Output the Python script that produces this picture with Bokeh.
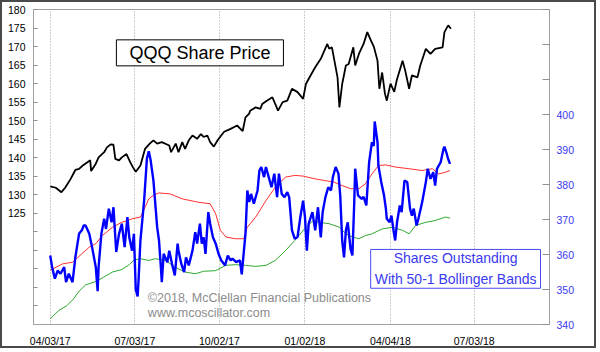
import datetime as dt
from bokeh.plotting import figure
from bokeh.models import (Range1d, LinearAxis, FixedTicker, DatetimeTickFormatter,
                          Label, ColumnDataSource)
from bokeh.embed import file_html
from bokeh.resources import INLINE

START = dt.datetime(2017, 4, 3)

# QQQ share price (left axis), day offsets from 04/03/17
price_day = [0, 6, 12, 16, 22, 27, 31, 35, 40, 43, 44, 49, 52, 58, 61, 65, 68, 70, 74, 77,
             82, 86, 89, 92, 97, 102, 107, 111, 115, 120, 128, 130, 135, 138, 142, 145, 149,
             153, 158, 162, 165, 169, 172, 176, 180, 187, 194, 201, 207, 210, 214, 215, 221,
             226, 228, 233, 239, 242, 245, 250, 255, 260, 266, 272, 275, 280, 285, 291, 298,
             300, 303, 307, 309, 311, 314, 318, 321, 326, 328, 332, 337, 341, 345, 348, 352,
             354, 357, 360, 362, 366, 370, 373, 379, 382, 386, 389, 395, 398, 404, 409, 414,
             422, 424, 428, 431]
price = [132.3, 131.9, 130.7, 131.9, 134.3, 136.7, 137.0, 137.9, 138.8, 139.3, 136.4, 138.4,
         140.1, 141.5, 142.8, 143.6, 143.5, 139.7, 139.3, 140.1, 141.0, 138.8, 137.4, 136.2,
         137.9, 142.4, 143.8, 144.7, 143.8, 144.2, 143.3, 141.5, 143.8, 141.5, 144.2, 142.4,
         144.7, 146.0, 145.1, 146.4, 145.6, 146.0, 144.2, 143.0, 144.7, 147.0, 147.8, 148.7,
         147.2, 150.9, 151.9, 152.7, 153.6, 153.2, 154.5, 155.4, 156.3, 154.5, 152.7, 155.0,
         155.4, 158.6, 157.7, 155.9, 159.9, 162.2, 164.4, 166.7, 170.7, 169.4, 169.8, 164.4,
         161.7, 153.6, 159.9, 164.9, 165.3, 169.8, 164.9, 168.0, 170.7, 173.9, 171.6, 170.0,
         166.2, 158.6, 163.0, 157.3, 155.4, 160.0, 157.8, 161.2, 166.2, 163.3, 158.6, 162.2,
         161.7, 164.9, 169.4, 168.0, 169.4, 169.8, 173.9, 175.7, 174.8]

# Shares outstanding, millions (right axis)
shares_day = [0, 2, 5, 8, 11, 15, 17, 20, 24, 27, 31, 34, 36, 38, 42, 45, 49, 51, 52, 55, 58,
              60, 63, 66, 68, 71, 74, 77, 80, 83, 85, 88, 90, 92, 94, 95, 97, 101, 104, 106,
              108, 111, 115, 117, 119, 120, 122, 126, 128, 131, 134, 137, 138, 141, 144, 146,
              149, 153, 156, 158, 161, 163, 165, 167, 170, 172, 175, 178, 181, 184, 188, 191,
              194, 196, 200, 204, 206, 208, 210, 212, 214, 216, 219, 223, 225, 227, 230, 232,
              235, 238, 241, 244, 246, 249, 252, 255, 257, 260, 263, 266, 269, 272, 274, 276,
              278, 282, 285, 288, 291, 293, 296, 299, 302, 304, 307, 310, 312, 314, 316, 318,
              320, 323, 325, 327, 328, 331, 335, 337, 340, 343, 346, 348, 349, 352, 353, 356,
              359, 361, 362, 365, 367, 369, 371, 373, 376, 378, 381, 384, 387, 389, 391, 394,
              396, 400, 404, 406, 409, 412, 414, 416, 420, 423, 424, 426, 428, 430]
shares = [359.7, 356.4, 353.1, 355.4, 354.5, 356.4, 352.1, 354.5, 352.1, 359.2, 365.9, 366.9,
          368.3, 368.3, 365.9, 362.1, 356.4, 349.5, 356.4, 365.9, 370.2, 367.3, 373.1, 369.2,
          373.5, 360.7, 365.9, 368.8, 362.1, 370.7, 364.9, 361.1, 365.9, 350.0, 348.0, 352.6,
          364.0, 375.4, 387.5, 389.5, 386.9, 381.1, 367.8, 364.0, 356.4, 352.1, 360.2, 357.8,
          361.1, 357.3, 354.0, 363.1, 361.1, 357.3, 355.0, 359.2, 356.9, 361.1, 366.4, 363.1,
          368.8, 363.1, 364.9, 360.2, 372.1, 368.8, 364.9, 363.1, 360.2, 358.3, 356.9, 359.7,
          358.3, 358.8, 357.8, 358.3, 354.3, 360.2, 365.9, 378.3, 375.0, 377.3, 374.5, 378.3,
          384.0, 385.0, 382.1, 385.0, 382.1, 379.2, 383.1, 376.4, 383.1, 377.3, 376.4, 377.8,
          376.4, 366.9, 364.5, 365.0, 370.7, 375.4, 370.7, 361.1, 368.8, 372.1, 366.9, 373.5,
          364.9, 372.1, 376.4, 379.2, 378.3, 382.1, 385.0, 383.1, 376.4, 364.0, 359.2, 366.9,
          369.2, 361.6, 359.7, 375.0, 384.5, 376.9, 375.9, 376.5, 374.0, 386.4, 392.1, 391.0,
          398.0, 392.1, 385.4, 380.7, 376.9, 373.1, 370.2, 369.2, 371.1, 367.3, 364.0, 369.2,
          374.0, 372.1, 381.1, 380.7, 373.1, 371.1, 373.1, 368.3, 370.2, 374.9, 380.7, 384.5,
          381.6, 383.5, 379.7, 384.5, 386.4, 390.2, 390.8, 389.2, 387.3, 385.9]

# 50-day Bollinger bands (right axis)
upper_day = [0, 13, 24, 34, 42, 49, 56, 67, 77, 88, 97, 102, 106, 111, 117, 129, 142, 160, 172,
             178, 183, 189, 199, 208, 212, 221, 232, 242, 253, 263, 272, 285, 296, 305, 314,
             323, 332, 339, 346, 353, 361, 371, 386, 400, 411, 418, 425, 430]
upper = [355.5, 357.3, 357.8, 360.2, 362.1, 363.1, 365.4, 367.8, 369.2, 370.2, 370.7, 373.5,
         375.9, 376.9, 377.6, 377.3, 375.9, 374.9, 374.5, 371.6, 366.9, 365.0, 364.5, 364.5,
         367.8, 370.7, 375.4, 379.2, 382.1, 382.6, 382.4, 381.6, 381.1, 380.7, 379.7, 378.8,
         378.8, 380.2, 383.0, 385.4, 385.6, 385.0, 384.5, 384.0, 384.5, 383.0, 383.5, 384.0]
lower_day = [0, 9, 18, 25, 31, 38, 49, 56, 67, 77, 85, 90, 97, 106, 113, 124, 134, 145, 156,
             165, 178, 189, 199, 210, 221, 232, 242, 253, 263, 274, 282, 289, 300, 311, 318,
             325, 332, 339, 346, 357, 368, 379, 386, 393, 404, 414, 425, 430]
lower = [341.6, 344.0, 345.4, 347.3, 349.5, 351.3, 352.3, 353.3, 355.0, 355.7, 357.1, 358.4,
         358.8, 358.3, 358.8, 358.3, 356.4, 355.0, 354.5, 355.2, 355.4, 356.9, 357.1, 356.9,
         356.6, 356.9, 358.3, 361.1, 364.0, 367.5, 369.5, 369.2, 368.8, 367.8, 365.9, 365.0,
         364.5, 365.4, 365.9, 367.3, 367.8, 366.9, 365.9, 368.3, 369.2, 369.7, 370.7, 370.4]

tick_dates = ["2017-04-03", "2017-07-03", "2017-10-02", "2018-01-02", "2018-04-04", "2018-07-03"]
left_ticks = list(range(100, 181, 5))
left_labelled = list(range(125, 181, 5))
right_ticks = list(range(340, 431, 10))
right_labelled = list(range(340, 401, 10))


def to_dates(days):
    return [START + dt.timedelta(days=d) for d in days]


def ms(d):
    return (d - dt.datetime(1970, 1, 1)).total_seconds() * 1000.0


FONT = "Liberation Sans"
BLUE_TXT = "#3a3af0"

p = figure(width=596, height=348, x_axis_type="datetime",
           x_range=Range1d(dt.datetime(2017, 3, 16), dt.datetime(2018, 9, 22)),
           y_range=Range1d(95, 180), output_backend="svg", toolbar_location=None,
           min_border_left=31, min_border_right=49, min_border_top=7, min_border_bottom=26)
p.styles = {"border": "2px solid #4a4a4a"}
p.extra_y_ranges = {"sh": Range1d(340, 430)}
p.outline_line_color = "#a0a0a0"
p.background_fill_color = "white"
p.border_fill_color = "white"

# x axis
xt = [ms(dt.datetime.strptime(s, "%Y-%m-%d")) for s in tick_dates]
p.xaxis.ticker = FixedTicker(ticks=xt)
fmt = "%m/%d/%y"
p.xaxis.formatter = DatetimeTickFormatter(days=fmt, months=fmt, years=fmt, hours=fmt,
                                          minutes=fmt, seconds=fmt, milliseconds=fmt,
                                          minsec=fmt, hourmin=fmt)
p.xaxis.major_tick_in = 0
p.xaxis.major_tick_out = 0
p.xaxis.minor_tick_line_color = None
p.xaxis.axis_line_color = "#a0a0a0"
p.xaxis.major_label_standoff = 10
p.xaxis.major_label_text_font = FONT
p.xaxis.major_label_text_font_size = "10.5px"
p.xaxis.major_label_text_color = "black"

p.xgrid.ticker = FixedTicker(ticks=xt)
p.xgrid.grid_line_color = "#9a9a9a"
p.xgrid.grid_line_dash = "1 2"
p.xgrid.grid_line_width = 1
p.ygrid.grid_line_color = None

# left axis
p.yaxis.ticker = FixedTicker(ticks=left_ticks)
p.yaxis.major_label_overrides = {t: "" for t in left_ticks if t not in left_labelled}
p.yaxis.major_tick_in = 4
p.yaxis.major_tick_out = 0
p.yaxis.minor_tick_line_color = None
p.yaxis.major_tick_line_color = "#909090"
p.yaxis.axis_line_color = "#a0a0a0"
p.yaxis.major_label_standoff = 8
p.yaxis.major_label_text_font = FONT
p.yaxis.major_label_text_font_size = "10.5px"
p.yaxis.major_label_text_color = "black"

# right axis
ra = LinearAxis(y_range_name="sh", ticker=FixedTicker(ticks=right_ticks))
ra.major_label_overrides = {t: "" for t in right_ticks if t not in right_labelled}
ra.major_tick_in = 7
ra.major_tick_out = 0
ra.minor_tick_line_color = None
ra.major_tick_line_color = "#909090"
ra.axis_line_color = "#a0a0a0"
ra.major_label_standoff = 7
ra.major_label_text_font = FONT
ra.major_label_text_font_size = "10.5px"
ra.major_label_text_color = BLUE_TXT
p.add_layout(ra, "right")

# series
src_p = ColumnDataSource(dict(x=to_dates(price_day), y=price))
src_s = ColumnDataSource(dict(x=to_dates(shares_day), y=shares))
src_u = ColumnDataSource(dict(x=to_dates(upper_day), y=upper))
src_l = ColumnDataSource(dict(x=to_dates(lower_day), y=lower))

p.line("x", "y", source=src_p, line_color="black", line_width=1.8)
p.line("x", "y", source=src_u, line_color="#ff3030", line_width=1, y_range_name="sh")
p.line("x", "y", source=src_l, line_color="#30a830", line_width=1, y_range_name="sh")
p.line("x", "y", source=src_s, line_color="#0000ff", line_width=2.4, y_range_name="sh")

# annotations
title = Label(x=dt.datetime(2017, 9, 11), y=168.3, text="QQQ Share Price",
              text_align="center", text_baseline="middle", text_font=FONT,
              text_font_size="18px", text_color="black",
              border_line_color="black", border_line_width=1,
              background_fill_color="white", padding=(13, 3))
p.add_layout(title)

legend = Label(x=dt.datetime(2018, 6, 13), y=355.9, y_range_name="sh",
               text="Shares Outstanding\nWith 50-1 Bollinger Bands",
               text_align="center", text_baseline="middle", text_font=FONT,
               text_font_size="14px", text_color=BLUE_TXT, text_line_height=1.3,
               border_line_color="#4a4af0", border_line_width=1,
               background_fill_color="white", padding=(4, 1))
p.add_layout(legend)

millions = Label(x=dt.datetime(2018, 11, 4), y=385.1, y_range_name="sh", text="Millions",
                 angle=90, angle_units="deg", text_align="center", text_baseline="middle",
                 text_font=FONT, text_font_size="8.5px", text_color="#2020e0")
p.add_layout(millions)

copy1 = Label(x=dt.datetime(2017, 7, 17), y=102.1, text="\u00a92018, McClellan Financial Publications",
              text_align="left", text_baseline="middle", text_font=FONT,
              text_font_size="12.5px", text_color="#8c8c8c")
copy2 = Label(x=dt.datetime(2017, 7, 17), y=98.2, text="www.mcoscillator.com",
              text_align="left", text_baseline="middle", text_font=FONT,
              text_font_size="12.5px", text_color="#8c8c8c")
p.add_layout(copy1)
p.add_layout(copy2)

open("out.html", "w").write(file_html(p, INLINE))
